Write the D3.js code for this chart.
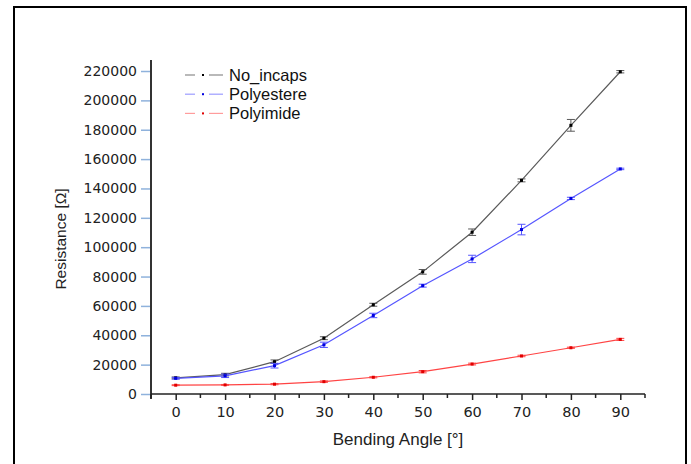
<!DOCTYPE html>
<html>
<head>
<meta charset="utf-8">
<script src="https://d3js.org/d3.v7.min.js"></script>
<style>
body { margin: 0; background: #fff; }
</style>
</head>
<body>
<svg id="chart" width="691" height="464"></svg>
<script>
// bending angle (deg)
const angles = [0, 10, 20, 30, 40, 50, 60, 70, 80, 90];
const seriesNames = ["No_incaps", "Polyestere", "Polyimide"];

// resistance (ohm)
const noIncaps   = [11000, 13200, 22000, 38000, 60800, 83200, 110200, 145500, 183000, 219500];
const polyestere = [10700, 12400, 19300, 33500, 53500, 73800, 92000, 112000, 133200, 153300];
const polyimide  = [6000, 6200, 6700, 8400, 11400, 15200, 20400, 25900, 31500, 37200];

// error bar half-heights
const noIncapsErr   = [600, 900, 1200, 1000, 1000, 1600, 2200, 1000, 4000, 800];
const polyestereErr = [600, 1200, 1600, 1800, 1500, 1000, 2500, 3600, 800, 500];
const polyimideErr  = [300, 300, 400, 500, 400, 800, 600, 500, 400, 700];

const yTicks = d3.range(0, 220001, 20000);
const xTicks = d3.range(0, 91, 10);

const svg = d3.select("#chart");

const x = d3.scaleLinear().domain([-5, 95]).range([151, 645]);
const y = d3.scaleLinear().domain([0, 227500]).range([394, 60]);

// outer frame
svg.append("rect")
   .attr("x", 14).attr("y", 7)
   .attr("width", 672).attr("height", 470)
   .attr("fill", "#fff")
   .attr("stroke", "#000")
   .attr("stroke-width", 2);

// y axis
const yAxis = svg.append("g")
   .attr("transform", "translate(" + x(-5) + ",0)")
   .call(d3.axisLeft(y).tickValues(yTicks).tickSize(10).tickPadding(4).tickFormat(d3.format("d")));
yAxis.select(".domain").remove();
yAxis.selectAll(".tick line").attr("stroke", "#8fb2dc").attr("stroke-width", 1.5);
yAxis.selectAll(".tick text")
     .attr("font-family", "DejaVu Sans")
     .attr("font-size", 14)
     .attr("fill", "#222");
svg.append("line")
   .attr("x1", x(-5)).attr("x2", x(-5))
   .attr("y1", 60).attr("y2", 399)
   .attr("stroke", "#333").attr("stroke-width", 2);

// x axis
const xAxis = svg.append("g")
   .attr("transform", "translate(0," + y(0) + ")")
   .call(d3.axisBottom(x).tickValues(xTicks).tickSize(6).tickPadding(7));
xAxis.select(".domain").remove();
xAxis.selectAll(".tick line").attr("stroke", "#222").attr("stroke-width", 1.5);
xAxis.selectAll(".tick text")
     .attr("font-family", "DejaVu Sans")
     .attr("font-size", 14.5)
     .attr("fill", "#222");
svg.append("g")
   .selectAll("line")
   .data(d3.range(-5, 96, 10))
   .join("line")
   .attr("x1", d => x(d)).attr("x2", d => x(d))
   .attr("y1", y(0)).attr("y2", y(0) + 4)
   .attr("stroke", "#222").attr("stroke-width", 1.5);
svg.append("line")
   .attr("x1", x(-5)).attr("x2", x(95))
   .attr("y1", y(0)).attr("y2", y(0))
   .attr("stroke", "#222").attr("stroke-width", 1.5);

// axis titles
svg.append("text")
   .attr("x", (x(-5) + x(95)) / 2)
   .attr("y", 445)
   .attr("text-anchor", "middle")
   .attr("font-family", "Liberation Sans, Arial")
   .attr("font-size", 17)
   .attr("fill", "#222")
   .text("Bending Angle [°]");
svg.append("text")
   .attr("transform", "translate(66,239) rotate(-90)")
   .attr("text-anchor", "middle")
   .attr("font-family", "Liberation Sans, Arial")
   .attr("font-size", 15.5)
   .attr("fill", "#222")
   .text("Resistance [Ω]");

const series = [
  {name: seriesNames[0], values: noIncaps, err: noIncapsErr, line: "#5a5a5a", mark: "#000", legend: "#8a8a8a"},
  {name: seriesNames[1], values: polyestere, err: polyestereErr, line: "#5555ff", mark: "#0000e0", legend: "#9c9cff"},
  {name: seriesNames[2], values: polyimide, err: polyimideErr, line: "#ff4444", mark: "#e00000", legend: "#ff9c9c"}
];

const lineGen = d3.line()
   .x((d, i) => x(angles[i]))
   .y(d => y(d));

series.forEach(s => {
  const g = svg.append("g");
  g.append("path")
   .attr("d", lineGen(s.values))
   .attr("fill", "none")
   .attr("stroke", s.line)
   .attr("stroke-width", 1.2);

  const bars = g.selectAll("g.err")
   .data(s.values.map((v, i) => ({a: angles[i], v: v, e: s.err[i]})))
   .join("g");
  bars.append("line")
   .attr("x1", d => x(d.a)).attr("x2", d => x(d.a))
   .attr("y1", d => y(d.v - d.e)).attr("y2", d => y(d.v + d.e))
   .attr("stroke", s.line).attr("stroke-width", 1);
  bars.append("line")
   .attr("x1", d => x(d.a) - 4).attr("x2", d => x(d.a) + 4)
   .attr("y1", d => y(d.v + d.e)).attr("y2", d => y(d.v + d.e))
   .attr("stroke", s.line).attr("stroke-width", 1);
  bars.append("line")
   .attr("x1", d => x(d.a) - 4).attr("x2", d => x(d.a) + 4)
   .attr("y1", d => y(d.v - d.e)).attr("y2", d => y(d.v - d.e))
   .attr("stroke", s.line).attr("stroke-width", 1);
  bars.append("rect")
   .attr("x", d => x(d.a) - 1.5).attr("y", d => y(d.v) - 1.5)
   .attr("width", 3).attr("height", 3)
   .attr("fill", s.mark);
});

// legend
const legend = svg.append("g")
   .selectAll("g")
   .data(series)
   .join("g")
   .attr("transform", (d, i) => "translate(0," + (75 + i * 19.2) + ")");
legend.append("line")
   .attr("x1", 185).attr("x2", 195).attr("y1", 0).attr("y2", 0)
   .attr("stroke", d => d.legend).attr("stroke-width", 1.2);
legend.append("line")
   .attr("x1", 209).attr("x2", 223).attr("y1", 0).attr("y2", 0)
   .attr("stroke", d => d.legend).attr("stroke-width", 1.2);
legend.append("rect")
   .attr("x", 202).attr("y", -1).attr("width", 2).attr("height", 2)
   .attr("fill", d => d.mark);
legend.append("text")
   .attr("x", 229)
   .attr("y", 0)
   .attr("dy", "0.36em")
   .attr("font-family", "Liberation Sans, Arial")
   .attr("font-size", 16.5)
   .attr("fill", "#111")
   .text(d => d.name);
</script>
</body>
</html>
